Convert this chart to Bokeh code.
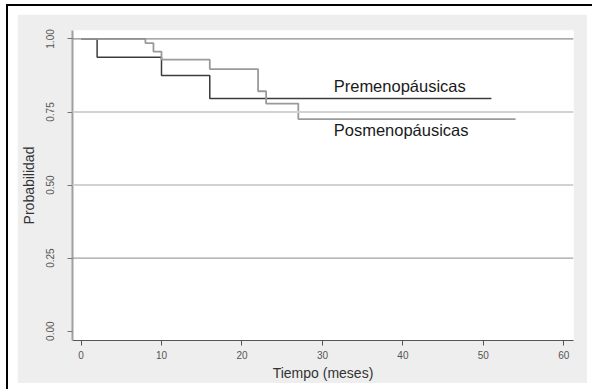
from bokeh.plotting import figure
from bokeh.models import Range1d, FixedTicker, PrintfTickFormatter, Span, Label
from bokeh.layouts import column
from bokeh.embed import file_html
from bokeh.resources import INLINE

# Kaplan-Meier estimates (time in months, survival probability)
pre_time = [0, 2, 10, 16, 51]
pre_surv = [1.0, 0.9375, 0.875, 0.796, 0.796]

post_time = [0, 8, 9, 10, 16, 22, 23, 27, 54]
post_surv = [1.0, 0.986, 0.957, 0.929, 0.897, 0.821, 0.779, 0.726, 0.726]

x_ticks = [0, 10, 20, 30, 40, 50, 60]
y_ticks = [0.0, 0.25, 0.5, 0.75, 1.0]

FONT = "Liberation Sans"

p = figure(width=570, height=369,
           x_range=Range1d(-1.06, 61.2), y_range=Range1d(-0.032, 1.029),
           output_backend="svg", toolbar_location=None,
           min_border_left=55, min_border_right=14,
           min_border_top=16, min_border_bottom=42,
           border_fill_color="#eeeeee", background_fill_color="white",
           outline_line_color=None)

p.xgrid.visible = False
p.ygrid.visible = False

# horizontal reference lines
grid_colors = {0.25: ("#8c8c8c", 1), 0.5: ("#d2d2d2", 2), 0.75: ("#d2d2d2", 2), 1.0: ("#8c8c8c", 1.2)}
for lvl in y_ticks[1:]:
    c, w = grid_colors[lvl]
    p.add_layout(Span(location=lvl, dimension="width", line_color=c, line_width=w))

p.step(pre_time, pre_surv, mode="after", line_color="#3c3c3c", line_width=1.5)
p.step(post_time, post_surv, mode="after", line_color="#9a9a9a", line_width=1.8)

p.add_layout(Label(x=31.4, y=0.838, text="Premenopáusicas", text_baseline="middle",
                   text_font=FONT, text_font_size="16.5px", text_color="#1a1a1a"))
p.add_layout(Label(x=31.4, y=0.688, text="Posmenopáusicas", text_baseline="middle",
                   text_font=FONT, text_font_size="16.5px", text_color="#1a1a1a"))

# axes
p.xaxis.ticker = FixedTicker(ticks=x_ticks)
p.yaxis.ticker = FixedTicker(ticks=y_ticks)
p.yaxis.formatter = PrintfTickFormatter(format="%.2f")
p.yaxis.major_label_orientation = "vertical"

p.xaxis.axis_label = "Tiempo (meses)"
p.yaxis.axis_label = "Probabilidad"

for ax in (p.xaxis, p.yaxis):
    ax.minor_tick_line_color = None
    ax.major_tick_in = 0
    ax.major_tick_out = 5
    ax.major_label_text_font = FONT
    ax.major_label_text_font_size = "10px"
    ax.major_label_text_color = "#555555"
    ax.axis_label_text_font = FONT
    ax.axis_label_text_font_size = "14px"
    ax.axis_label_text_font_style = "normal"
    ax.axis_label_text_color = "#333333"

p.xaxis.axis_line_color = "#555555"
p.xaxis.axis_line_width = 1.2
p.xaxis.major_tick_line_color = "#555555"
p.xaxis.major_label_standoff = 5
p.xaxis.axis_label_standoff = 3

p.yaxis.axis_line_color = "#a0a0a0"
p.yaxis.axis_line_width = 2
p.yaxis.major_tick_line_color = "#777777"
p.yaxis.major_label_standoff = 13
p.yaxis.axis_label_standoff = 7

p.margin = (8, 5, 6, 9)
page = column(p, margin=(4, 0, 0, 6),
              styles={"border-top": "2px solid black", "border-left": "2px solid black",
                      "background-color": "white"})

open("out.html", "w").write(file_html(page, INLINE))
